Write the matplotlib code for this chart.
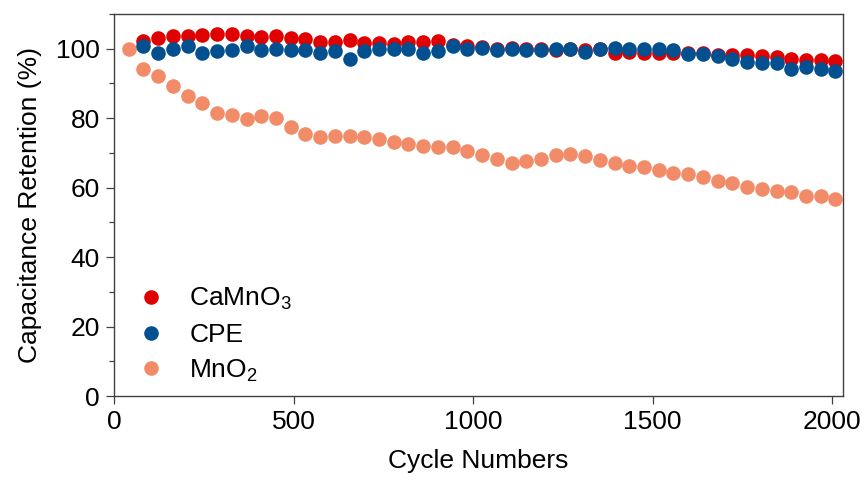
import matplotlib
matplotlib.use("Agg")
import matplotlib.pyplot as plt
from matplotlib.ticker import MultipleLocator

plt.rcParams['font.family'] = ['Liberation Sans', 'DejaVu Sans']
plt.rcParams['mathtext.default'] = 'regular'

# cycle numbers of the sampled points
cycles = [41, 82, 123, 164, 205, 246, 287, 328, 369, 410,
          451, 492, 533, 574, 615, 656, 697, 738, 779, 820,
          861, 902, 943, 984, 1025, 1066, 1107, 1148, 1189, 1230,
          1271, 1312, 1353, 1394, 1435, 1476, 1517, 1558, 1599, 1640,
          1681, 1722, 1763, 1804, 1845, 1886, 1927, 1968, 2009]

# retention (%); CaMnO3 and CPE start at the 2nd point
camno3 = [102.3, 103.1, 103.6, 103.7, 103.9, 104.2, 104.3, 103.6, 103.3,
          103.6, 103.1, 102.8, 101.9, 101.8, 102.4, 101.7, 101.6, 101.3,
          102.0, 102.0, 102.1, 101.2, 100.7, 100.5, 100.0, 100.2, 99.8,
          100.0, 99.5, 99.9, 99.6, 100.0, 98.9, 99.2, 98.7, 98.9, 98.9,
          98.8, 98.9, 98.3, 98.3, 98.3, 98.0, 97.6, 97.0, 96.8, 96.8, 96.4]
cpe = [100.9, 98.8, 99.9, 100.9, 98.8, 99.4, 99.5, 100.7, 99.5,
       99.9, 99.7, 99.5, 98.9, 99.4, 97.0, 99.4, 99.9, 99.9,
       99.9, 98.9, 99.4, 100.9, 99.9, 100.2, 99.5, 99.9, 99.5,
       99.7, 99.9, 99.9, 99.2, 99.9, 100.2, 99.9, 99.9, 99.9, 99.7,
       98.6, 98.6, 98.0, 97.0, 96.3, 95.9, 95.9, 94.1, 94.7, 94.1, 93.7]
mno2 = [100.0, 94.2, 92.2, 89.4, 86.5, 84.3, 81.6, 81.0, 79.8, 80.5,
        80.0, 77.6, 75.4, 74.7, 74.9, 74.9, 74.5, 74.0, 73.1, 72.6,
        72.0, 71.7, 71.7, 70.6, 69.5, 68.2, 67.2, 67.8, 68.2, 69.5,
        69.7, 69.0, 68.0, 67.2, 66.3, 65.8, 65.1, 64.2, 64.0, 63.2,
        62.0, 61.3, 60.3, 59.6, 59.1, 58.6, 57.7, 57.7, 56.8]

fig = plt.figure(figsize=(8.66, 4.84), dpi=100)
ax = fig.add_axes([114 / 866, 1 - 396 / 484, 729 / 866, 382 / 484])

ms = 10.5
ax.plot(cycles, mno2, 'o', color='#F28B68', ms=ms, mew=0, label='MnO$_2$', zorder=2)
ax.plot(cycles[1:], camno3, 'o', color='#E10000', ms=ms, mew=0, label='CaMnO$_3$', zorder=3)
ax.plot(cycles[1:], cpe, 'o', color='#02508F', ms=ms, mew=0, label='CPE', zorder=4)

ax.set_xlim(0, 2030)
ax.set_ylim(0, 110)
ax.xaxis.set_major_locator(MultipleLocator(500))
ax.yaxis.set_major_locator(MultipleLocator(20))
ax.yaxis.set_minor_locator(MultipleLocator(10))

fs = 19
for s in ax.spines.values():
    s.set_color('#404040')
    s.set_linewidth(1.0)
ax.tick_params(which='major', direction='out', length=6, width=0.9,
               color='#404040', labelsize=fs, pad=4)
ax.tick_params(which='minor', direction='out', length=3.5, width=0.9, color='#404040')
ax.tick_params(axis='x', which='minor', bottom=False)

ax.set_xlabel('Cycle Numbers', fontsize=fs, labelpad=11)
ax.set_ylabel('Capacitance Retention (%)', fontsize=fs, labelpad=10)

handles, labels = ax.get_legend_handles_labels()
order = [1, 2, 0]
ax.legend([handles[i] for i in order], [labels[i] for i in order],
          loc='lower left', bbox_to_anchor=(0.0, -0.03), frameon=False,
          fontsize=fs, handlelength=1.0, handletextpad=0.95, labelspacing=0.4,
          numpoints=1)

fig.savefig('out.png', dpi=100)
